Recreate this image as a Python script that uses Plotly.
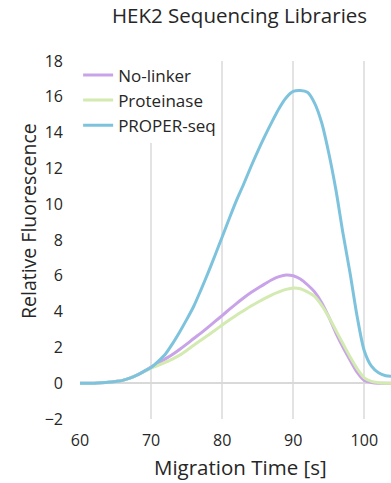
import plotly.graph_objects as go

time_s = [60, 61, 62, 63, 64, 65, 66, 67, 68, 69, 70, 71, 72, 73, 74, 75, 76, 77, 78, 79,
          80, 81, 82, 83, 84, 85, 86, 87, 88, 89, 90, 91, 92, 93, 94, 95, 96, 97, 98, 99,
          100, 101, 102, 103, 104]

no_linker = [0.0, 0.0, 0.0, 0.02, 0.05, 0.1, 0.16, 0.28, 0.45, 0.66, 0.9, 1.12, 1.36, 1.6, 1.88,
             2.18, 2.5, 2.8, 3.12, 3.45, 3.78, 4.12, 4.45, 4.76, 5.05, 5.3, 5.55, 5.78, 5.95, 6.05,
             6.0, 5.82, 5.5, 5.1, 4.5, 3.7, 2.8, 2.0, 1.28, 0.6, 0.15, 0.04, 0.0, 0.0, 0.0]

proteinase = [0.0, 0.0, 0.0, 0.02, 0.05, 0.1, 0.16, 0.28, 0.45, 0.64, 0.84, 1.0, 1.17, 1.35, 1.56,
              1.83, 2.12, 2.4, 2.68, 2.96, 3.25, 3.53, 3.8, 4.05, 4.3, 4.52, 4.74, 4.94, 5.1, 5.24,
              5.32, 5.28, 5.1, 4.85, 4.35, 3.7, 2.95, 2.2, 1.47, 0.8, 0.3, 0.1, 0.03, 0.0, 0.0]

proper_seq = [0.0, 0.0, 0.0, 0.02, 0.05, 0.1, 0.16, 0.28, 0.45, 0.66, 0.88, 1.22, 1.62, 2.2, 2.85,
              3.55, 4.3, 5.2, 6.15, 7.15, 8.17, 9.2, 10.2, 11.1, 12.05, 12.95, 13.8, 14.6, 15.35, 15.95,
              16.3, 16.35, 16.25, 15.65, 14.55, 12.85, 10.8, 8.36, 6.13, 3.7, 1.8, 0.95, 0.58, 0.42, 0.38]

series_names = ["No-linker", "Proteinase", "PROPER-seq"]
series_values = [no_linker, proteinase, proper_seq]
series_colors = ["#c9a3e8", "#d3eab0", "#7ec3dd"]

x_ticks = [60, 70, 80, 90, 100]
y_ticks = [-2, 0, 2, 4, 6, 8, 10, 12, 14, 16, 18]

FONT = "Open Sans"
TXT = "#262626"

fig = go.Figure()
for name, vals, col in zip(series_names, series_values, series_colors):
    fig.add_trace(go.Scatter(x=time_s, y=vals, mode="lines", name=name,
                             line=dict(color=col, width=3, shape="spline", smoothing=0.8),
                             legendgroup=name))

fig.update_layout(
    width=391, height=483,
    margin=dict(l=80, r=0, t=61, b=64),
    paper_bgcolor="white", plot_bgcolor="white",
    font=dict(family=FONT, color=TXT),
    showlegend=True,
    legend=dict(x=-0.006, y=1.01, xanchor="left", yanchor="top",
                bgcolor="white", borderwidth=0,
                font=dict(family=FONT, size=17, color=TXT),
                tracegroupgap=4, traceorder="normal"),
    xaxis=dict(range=[60, 103.75], tickvals=x_ticks, showgrid=True, gridcolor="#e3e3e3",
               gridwidth=1.5, zeroline=False, showline=False, ticks="",
               tickfont=dict(family=FONT, size=16, color=TXT), ticklabelstandoff=10),
    yaxis=dict(range=[-2, 18], tickvals=y_ticks, showgrid=False, zeroline=True,
               zerolinecolor="#d9d9d9", zerolinewidth=2, showline=False, ticks="",
               tickfont=dict(family=FONT, size=16, color=TXT), ticklabelstandoff=16),
    annotations=[
        dict(text="HEK2 Sequencing Libraries", xref="paper", yref="paper",
             x=(239 - 80) / 311, y=(419 - 15) / 358, xanchor="center", yanchor="middle",
             showarrow=False, font=dict(family=FONT, size=20.5, color=TXT)),
        dict(text="Relative Fluorescence", xref="paper", yref="paper",
             x=(28 - 80) / 311, y=(419 - 221) / 358, xanchor="center", yanchor="middle",
             textangle=-90, showarrow=False, font=dict(family=FONT, size=19.5, color=TXT)),
        dict(text="Migration Time [s]", xref="paper", yref="paper",
             x=(240 - 80) / 311, y=(419 - 467) / 358, xanchor="center", yanchor="middle",
             showarrow=False, font=dict(family=FONT, size=20.5, color=TXT)),
    ],
)

fig.write_html("out.html")
